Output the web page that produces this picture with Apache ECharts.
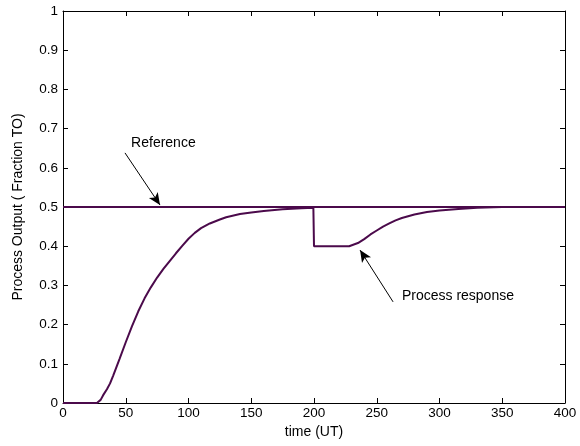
<!DOCTYPE html>
<html>
<head>
<meta charset="utf-8">
<script src="https://cdn.jsdelivr.net/npm/echarts@6/dist/echarts.min.js"></script>
<style>
  html, body { margin: 0; padding: 0; background: #fff; }
  #chart { width: 580px; height: 446px; }
</style>
</head>
<body>
<div id="chart"></div>
<script>
  // time (UT) and process output
  const timeX = [0, 27, 30, 32, 35, 37.5, 40, 45, 50, 55, 60, 65, 70, 75, 80, 85, 90, 95, 100, 105, 110, 117, 125, 130, 141, 150, 160, 175, 190, 199.5,
    200, 228, 235, 240, 245, 250, 255, 260, 265, 270, 280, 290, 300, 315, 330, 350, 400]
  const processY = [0, 0, 0.008, 0.02, 0.035, 0.05, 0.07, 0.112, 0.155, 0.196, 0.234, 0.267, 0.295, 0.32, 0.342, 0.362, 0.382, 0.401, 0.419, 0.434, 0.446, 0.458, 0.468, 0.474, 0.482, 0.486, 0.49, 0.494, 0.497, 0.498,
    0.4, 0.4, 0.408, 0.418, 0.43, 0.44, 0.45, 0.458, 0.466, 0.472, 0.481, 0.487, 0.491, 0.495, 0.498, 0.5, 0.5]
  const refX = [0, 400]
  const refY = [0.5, 0.5]

  // annotation arrows in data coords: [tailX, tailY, headX, headY]
  const refArrow = [49.4, 0.638, 77.3, 0.505]
  const procArrow = [263, 0.258, 236.7, 0.39]
  const refLabel = [80, 0.663]
  const procLabel = [314.7, 0.273]

  const lineColor = '#4b0a4b'
  const font = 'Liberation Sans, Arial, sans-serif'

  const chart = echarts.init(document.getElementById('chart'))

  const mirrorAxis = {
    min: 0, axisLine: { show: true, onZero: false, lineStyle: { color: '#000', width: 1 } },
    axisTick: { show: true, inside: true, length: 5, lineStyle: { color: '#000' } },
    axisLabel: { show: false }, splitLine: { show: false }
  }

  chart.setOption({
    animation: false,
    backgroundColor: '#fff',
    grid: { left: 63, right: 15, top: 11, bottom: 43 },
    xAxis: [
      {
        type: 'value', min: 0, max: 400, interval: 50,
        name: 'time (UT)', nameLocation: 'middle', nameGap: 21,
        nameTextStyle: { fontFamily: font, fontSize: 14, color: '#000' },
        axisLine: { onZero: false, lineStyle: { color: '#000', width: 1 } },
        axisTick: { inside: true, length: 5, lineStyle: { color: '#000' } },
        axisLabel: { fontFamily: font, fontSize: 13.5, color: '#000', margin: 3 },
        splitLine: { show: false }
      },
      Object.assign({ type: 'value', position: 'top', max: 400, interval: 50 }, mirrorAxis)
    ],
    yAxis: [
      {
        type: 'value', min: 0, max: 1, interval: 0.1,
        name: 'Process Output ( Fraction TO)', nameLocation: 'middle', nameGap: 38,
        nameTextStyle: { fontFamily: font, fontSize: 14, color: '#000' },
        axisLine: { show: true, onZero: false, lineStyle: { color: '#000', width: 1 } },
        axisTick: { show: true, inside: true, length: 5, lineStyle: { color: '#000' } },
        axisLabel: { fontFamily: font, fontSize: 13.5, color: '#000', margin: 5,
          formatter: v => String(Math.round(v * 10) / 10) },
        splitLine: { show: false }
      },
      Object.assign({ type: 'value', position: 'right', max: 1, interval: 0.1 }, mirrorAxis)
    ],
    series: [
      {
        name: 'Process response', type: 'line', showSymbol: false,
        data: timeX.map((t, i) => [t, processY[i]]),
        lineStyle: { color: lineColor, width: 2 },
        markLine: {
          silent: true, symbol: ['none', 'arrow'], symbolSize: [8, 12],
          lineStyle: { color: '#000', width: 1, type: 'solid' },
          label: { show: false },
          data: [
            [{ coord: [refArrow[0], refArrow[1]] }, { coord: [refArrow[2], refArrow[3]] }],
            [{ coord: [procArrow[0], procArrow[1]] }, { coord: [procArrow[2], procArrow[3]] }]
          ]
        },
        markPoint: {
          silent: true, symbol: 'circle', symbolSize: 0,
          label: { show: true, position: 'inside', fontFamily: font, fontSize: 14, color: '#000',
            formatter: p => p.name },
          data: [
            { name: 'Reference', coord: refLabel },
            { name: 'Process response', coord: procLabel }
          ]
        }
      },
      {
        name: 'Reference', type: 'line', showSymbol: false,
        data: refX.map((t, i) => [t, refY[i]]),
        lineStyle: { color: lineColor, width: 2 }
      }
    ]
  })
</script>
</body>
</html>
